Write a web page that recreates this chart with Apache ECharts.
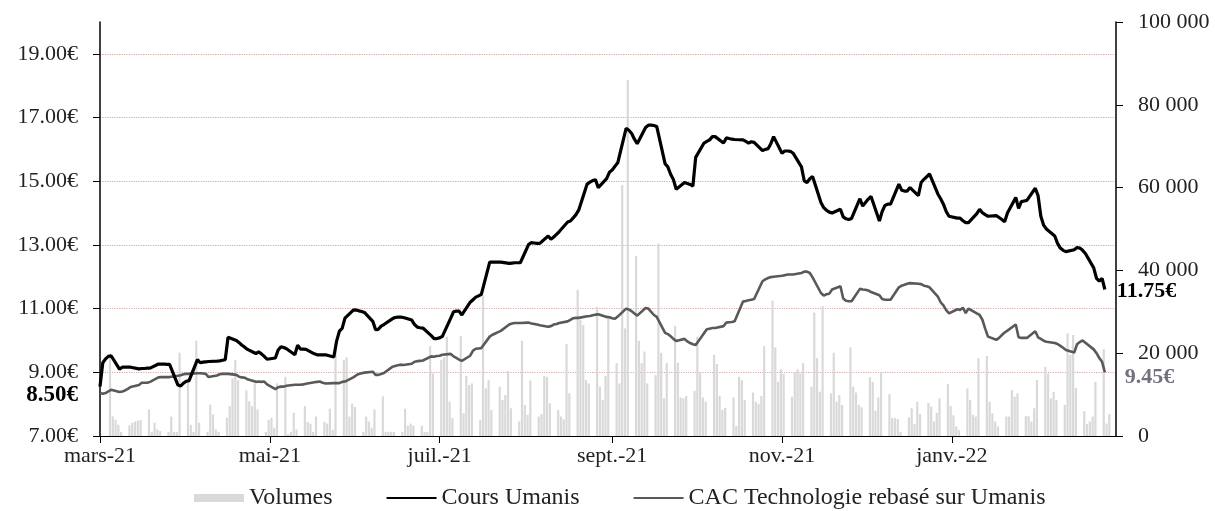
<!DOCTYPE html>
<html>
<head>
<meta charset="utf-8">
<script src="https://cdn.jsdelivr.net/npm/echarts@6/dist/echarts.min.js"></script>
<style>
  html, body { margin: 0; padding: 0; background: #fff; }
  #chart_umanis { width: 1215px; height: 511px; }
</style>
</head>
<body>
<div id="chart_umanis"></div>
<script>
// Umanis : cours, volumes et CAC Technologie rebasé, mars 2021 -> fév. 2022
// une valeur par jour ouvré (lun. -> ven.), une ligne = une semaine
var firstDay = [2021, 2, 1];
var lastDay = [2022, 2, 1];
var monthTicks = [[2021, 2, 1], [2021, 4, 1], [2021, 6, 1], [2021, 8, 1], [2021, 10, 1], [2022, 0, 1]];
var moisFr = ['janv.', 'févr.', 'mars', 'avr.', 'mai', 'juin', 'juil.', 'août', 'sept.', 'oct.', 'nov.', 'déc.'];
var leftTicks = [7, 9, 11, 13, 15, 17, 19];

var volumes = [
  19600, 4700, 3900, 2700, 1000,
  2600, 3200, 3500, 3700, 3900,
  6400, 1000, 3200, 1600, 1200,
  1000, 4700, 1000, 1000, 20100,
  13500, 2700, 1000, 23000, 3200,
  1000, 7600, 5200, 1600, 1000,
  4400, 7200, 13900, 18400, 13500,
  11000, 8400, 7200, 12700, 6400,
  1000, 3900, 4400, 2000, 12700,
  14300, 500, 1000, 5600, 1600,
  7200, 3400, 3000, 1000, 4700,
  3400, 3000, 6600, 1500, 20800,
  18400, 19000, 4700, 7800, 7000,
  1000, 4700, 3500, 2000, 6400,
  9600, 1000, 1000, 1000, 1000,
  1000, 6600, 2500, 3000, 2500,
  2500, 1000, 1000, 21700, 15100,
  18400, 19000, 24000, 8300, 4300,
  24200, 5500, 14500, 12300, 12700,
  3900, 34000, 11500, 13500, 6300,
  11900, 8700, 9900, 15700, 6700,
  3500, 23000, 7500, 5100, 13400,
  4700, 5300, 14500, 14300, 7900,
  6300, 4700, 4000, 22200, 10300,
  35300, 28000, 26800, 13500, 12700,
  31200, 11900, 8700, 14500, 28700,
  17600, 12700, 60600, 26000, 86000,
  43500, 23000, 17600, 20400, 12700,
  14700, 46500, 20100, 9100, 17600,
  26600, 17700, 9300, 9100, 9700,
  10900, 24000, 15500, 9300, 8300,
  19600, 17400, 9700, 6300, 6800,
  9300, 2400, 14300, 13500, 8700,
  10500, 8300, 7700, 9700, 21700,
  32700, 21400, 13100, 16100, 15000,
  9500, 15500, 16100, 15100, 17600,
  11900, 29800, 18800, 10700, 31400,
  10300, 20100, 8300, 9900, 7500,
  21400, 11900, 10500, 7500, 6900,
  14200, 13100, 6100, 9300, 15500,
  10100, 4300, 4300, 4100, 1000,
  4500, 6700, 2900, 8300, 5300,
  8000, 7100, 3500, 5600, 9100,
  12600, 7200, 5000, 2300, 1400,
  11500, 8700, 5100, 4700, 18800,
  19300, 8300, 5500, 3500, 2300,
  4700, 4700, 11100, 9500, 10300,
  4800, 4800, 3500, 6700, 13500,
  16700, 15100, 9100, 10700, 8700,
  7500, 24800, 19600, 24400, 11600,
  6000, 2900, 3500, 4700, 13100,
  21000, 3000, 5300, null, null
];

var cours = [
  8.55, 9.30, 9.42, 9.50, 9.52,
  9.10, 9.16, 9.16, 9.16, 9.16,
  9.11, 9.12, 9.12, 9.13, 9.13,
  9.26, 9.26, 9.26, 9.25, 9.25,
  8.60, 8.57, 8.66, 8.72, 8.74,
  9.40, 9.30, 9.32, 9.33, 9.34,
  9.35, 9.36, 9.38, 9.40, 10.10,
  10.00, 9.93, 9.85, 9.79, 9.72,
  9.59, 9.64, 9.58, 9.50, 9.41,
  9.45, 9.70, 9.80, 9.78, 9.74,
  9.55, 9.85, 9.73, 9.73, 9.72,
  9.58, 9.55, 9.55, 9.55, 9.55,
  9.48, 9.98, 10.29, 10.38, 10.70,
  10.95, 10.96, 10.93, 10.91, 10.88,
  10.60, 10.34, 10.35, 10.45, 10.50,
  10.68, 10.72, 10.73, 10.73, 10.72,
  10.64, 10.50, 10.42, 10.40, 10.39,
  10.15, 10.06, 10.06, 10.08, 10.13,
  10.70, 10.90, 10.92, 10.92, 10.80,
  11.20, 11.28, 11.36, 11.40, 11.45,
  12.46, 12.46, 12.46, 12.46, 12.46,
  12.42, 12.43, 12.44, 12.44, 12.44,
  13.02, 13.07, 13.06, 13.05, 13.05,
  13.28, 13.18, 13.25, 13.33, 13.42,
  13.72, 13.75, 13.85, 13.95, 14.10,
  14.91, 14.97, 15.02, 15.05, 14.80,
  15.08, 15.28, 15.35, 15.47, 15.58,
  16.66, 16.60, 16.50, 16.32, 16.18,
  16.69, 16.76, 16.76, 16.75, 16.72,
  15.55, 15.45, 15.22, 15.05, 14.75,
  14.96, 14.93, 14.90, 14.85, 15.75,
  16.20, 16.25, 16.30, 16.40, 16.40,
  16.20, 16.36, 16.34, 16.32, 16.31,
  16.30, 16.25, 16.20, 16.24, 16.22,
  15.96, 16.00, 16.02, 16.18, 16.40,
  15.88, 15.95, 15.95, 15.94, 15.88,
  15.45, 15.01, 14.96, 15.08, 15.15,
  14.33, 14.17, 14.09, 14.03, 14.00,
  14.12, 13.88, 13.82, 13.80, 13.83,
  14.45, 14.22, 14.33, 14.44, 14.52,
  13.75, 14.05, 14.24, 14.28, 14.28,
  14.91, 14.72, 14.69, 14.69, 14.80,
  14.55, 14.96, 15.06, 15.14, 15.23,
  14.60, 14.45, 14.28, 14.05, 13.90,
  13.84, 13.84, 13.76, 13.70, 13.70,
  13.98, 14.12, 14.01, 13.95, 13.90,
  13.92, 13.86, 13.80, 13.73, 14.00,
  14.49, 14.15, 14.36, 14.38, 14.40,
  14.78, 14.55, 13.90, 13.62, 13.50,
  13.28, 13.05, 12.90, 12.83, 12.79,
  12.85, 12.92, 12.90, 12.83, 12.73,
  12.28, 11.95, 11.86, 11.95, 11.60
];

var cacTech = [
  8.34, 8.33, 8.35, 8.40, 8.45,
  8.38, 8.40, 8.43, 8.48, 8.54,
  8.60, 8.67, 8.67, 8.67, 8.70,
  8.84, 8.85, 8.85, 8.85, 8.85,
  8.89, 8.91, 8.94, 8.95, 8.95,
  8.97, 8.97, 8.96, 8.95, 8.85,
  8.90, 8.94, 8.95, 8.95, 8.95,
  8.92, 8.86, 8.84, 8.83, 8.78,
  8.70, 8.71, 8.70, 8.71, 8.62,
  8.47, 8.53, 8.55, 8.55, 8.58,
  8.61, 8.61, 8.61, 8.62, 8.64,
  8.69, 8.70, 8.71, 8.67, 8.65,
  8.66, 8.66, 8.66, 8.70, 8.71,
  8.84, 8.90, 8.95, 8.97, 8.99,
  9.02, 8.92, 8.92, 8.95, 8.98,
  9.17, 9.20, 9.22, 9.24, 9.23,
  9.27, 9.33, 9.35, 9.36, 9.37,
  9.50, 9.49, 9.51, 9.52, 9.55,
  9.58, 9.50, 9.45, 9.40, 9.36,
  9.52, 9.68, 9.74, 9.75, 9.76,
  10.12, 10.18, 10.22, 10.26, 10.30,
  10.50, 10.53, 10.55, 10.55, 10.55,
  10.56, 10.53, 10.52, 10.50, 10.48,
  10.43, 10.45, 10.50, 10.52, 10.55,
  10.60, 10.65, 10.70, 10.71, 10.71,
  10.76, 10.77, 10.79, 10.81, 10.82,
  10.74, 10.73, 10.70, 10.68, 10.75,
  11.00, 10.97, 10.92, 10.85, 10.78,
  11.02, 11.00, 10.90, 10.80, 10.74,
  10.24, 10.20, 10.13, 10.05, 9.98,
  10.05, 9.97, 9.92, 9.88, 9.86,
  10.23, 10.35, 10.37, 10.39, 10.39,
  10.45, 10.56, 10.57, 10.58, 10.60,
  11.22, 11.24, 11.26, 11.28, 11.30,
  11.86, 11.92, 11.96, 11.99, 12.00,
  12.03, 12.05, 12.07, 12.07, 12.07,
  12.12, 12.16, 12.16, 12.12, 11.98,
  11.49, 11.41, 11.45, 11.47, 11.60,
  11.70, 11.32, 11.25, 11.23, 11.23,
  11.62, 11.60, 11.59, 11.57, 11.52,
  11.42, 11.30, 11.28, 11.28, 11.28,
  11.67, 11.72, 11.75, 11.78, 11.80,
  11.78, 11.77, 11.72, 11.70, 11.67,
  11.38, 11.20, 11.10, 10.95, 10.85,
  10.98, 10.96, 11.03, 10.86, 11.00,
  10.85, 10.80, 10.65, 10.37, 10.12,
  10.02, 10.08, 10.17, 10.25, 10.31,
  10.50, 10.10, 10.08, 10.08, 10.08,
  10.29, 10.10, 10.05, 9.99, 9.96,
  9.92, 9.89, 9.83, 9.77, 9.70,
  9.62, 9.88, 9.95, 10.00, 9.93,
  9.72, 9.60, 9.45, 9.33, 9.00
];

var startLabel = '8.50€';
var lastCours = '11.75€';
var lastCac = '9.45€';

var serif = 'Liberation Serif';
var legendFont = { fontSize: 24, fontFamily: serif, color: '#222' };

function toTime(d) { return new Date(d[0], d[1], d[2]).getTime(); }

// jours ouvrés à partir du 1er mars 2021
function joursOuvres(n) {
  var out = [];
  var d = new Date(firstDay[0], firstDay[1], firstDay[2]);
  while (out.length < n) {
    var wd = d.getDay();
    if (wd !== 0 && wd !== 6) out.push(d.getTime());
    d.setDate(d.getDate() + 1);
  }
  return out;
}

var dates = joursOuvres(cours.length);
var xMin = toTime(firstDay);
var xMax = toTime(lastDay);
// les barres sont décalées d'environ 3,6 jours dans le graphique d'origine (axe secondaire)
var barShift = 3.6 * 86400000;

function pairs(values) {
  return values.map(function (v, i) { return [dates[i], v]; });
}
function milliers(v) {
  return String(v).replace(/\B(?=(\d{3})+(?!\d))/g, ' ');
}

var myChart = echarts.init(document.getElementById('chart_umanis'));

var option = {
  animation: false,
  backgroundColor: '#fff',
  textStyle: { fontFamily: serif },
  grid: { left: 100, right: 99, top: 22, bottom: 75, containLabel: false, outerBoundsMode: 'none' },
  legend: {
    left: 194,
    top: 486,
    itemWidth: 50,
    itemHeight: 8,
    itemGap: 53,
    padding: 0,
    textStyle: legendFont,
    data: [
      { name: 'Volumes', icon: 'rect', textStyle: legendFont },
      { name: 'Cours Umanis', itemStyle: { opacity: 0 }, textStyle: legendFont },
      { name: 'CAC Technologie rebasé sur Umanis', itemStyle: { opacity: 0 }, textStyle: legendFont }
    ]
  },
  // axe des dates en millisecondes (valeur), graduations sur les mois impairs
  xAxis: [{
    type: 'value',
    min: xMin,
    max: xMax,
    axisLine: { show: true, onZero: false, lineStyle: { color: '#000', width: 1 } },
    axisTick: { show: true, length: 7, lineStyle: { color: '#000' }, customValues: monthTicks.map(toTime) },
    axisLabel: {
      customValues: monthTicks.map(toTime),
      margin: 9,
      fontSize: 22,
      fontFamily: serif,
      color: '#222',
      formatter: function (val) {
        var d = new Date(val);
        return moisFr[d.getMonth()] + '-' + String(d.getFullYear()).slice(2);
      }
    },
    splitLine: { show: false }
  }, {
    type: 'value',
    min: xMin - barShift,
    max: xMax - barShift,
    show: false,
    splitLine: { show: false }
  }],
  yAxis: [{
    type: 'value',
    position: 'left',
    min: 7,
    max: 20,
    axisLine: { show: true, lineStyle: { color: '#000', width: 1.5 } },
    axisTick: { show: true, length: 7, lineStyle: { color: '#000' }, customValues: leftTicks },
    axisLabel: {
      customValues: leftTicks,
      margin: 22,
      fontSize: 22,
      fontFamily: serif,
      color: '#222',
      formatter: function (v) { return Number(v).toFixed(2) + '€'; }
    },
    splitLine: { show: true, lineStyle: { color: '#d2aaa2', type: 'dotted', width: 1.2 } }
  }, {
    type: 'value',
    position: 'right',
    min: 0,
    max: 100000,
    interval: 20000,
    axisLine: { show: true, lineStyle: { color: '#000', width: 1.5 } },
    axisTick: { show: true, length: 7, lineStyle: { color: '#000' } },
    axisLabel: {
      margin: 22,
      fontSize: 22,
      fontFamily: serif,
      color: '#222',
      formatter: milliers
    },
    splitLine: { show: false }
  }],
  series: [{
    name: 'Volumes',
    type: 'bar',
    xAxisIndex: 1,
    yAxisIndex: 1,
    barWidth: 2.2,
    itemStyle: { color: '#d9d9d9' },
    data: pairs(volumes)
  }, {
    name: 'Cours Umanis',
    type: 'line',
    xAxisIndex: 0,
    yAxisIndex: 0,
    symbol: 'none',
    lineStyle: { color: '#000', width: 3.2 },
    itemStyle: { color: '#000' },
    endLabel: {
      show: true,
      formatter: function () { return lastCours; },
      distance: 12,
      offset: [0, 2],
      fontSize: 22,
      fontWeight: 'bold',
      fontFamily: serif,
      color: '#000'
    },
    data: pairs(cours),
    z: 4
  }, {
    name: 'CAC Technologie rebasé sur Umanis',
    type: 'line',
    xAxisIndex: 0,
    yAxisIndex: 0,
    symbol: 'none',
    lineStyle: { color: '#595959', width: 2.6 },
    itemStyle: { color: '#595959' },
    endLabel: {
      show: true,
      formatter: function () { return lastCac; },
      distance: 20,
      offset: [0, 5],
      fontSize: 22,
      fontWeight: 'bold',
      fontFamily: serif,
      color: '#72727f'
    },
    data: pairs(cacTech),
    z: 3
  }]
};

myChart.setOption(option);

// étiquette du premier cours, sous les graduations de l'axe de gauche
var p0 = myChart.convertToPixel({ xAxisIndex: 0, yAxisIndex: 0 }, [dates[0], cours[0]]);
myChart.setOption({
  graphic: [{
    type: 'text',
    x: p0[0] - 22,
    y: p0[1] + 8,
    style: {
      text: startLabel,
      fill: '#000',
      fontSize: 23,
      fontWeight: 'bold',
      fontFamily: serif,
      align: 'right',
      verticalAlign: 'middle'
    }
  }]
});

window.addEventListener('resize', function () { myChart.resize(); });
</script>
</body>
</html>
